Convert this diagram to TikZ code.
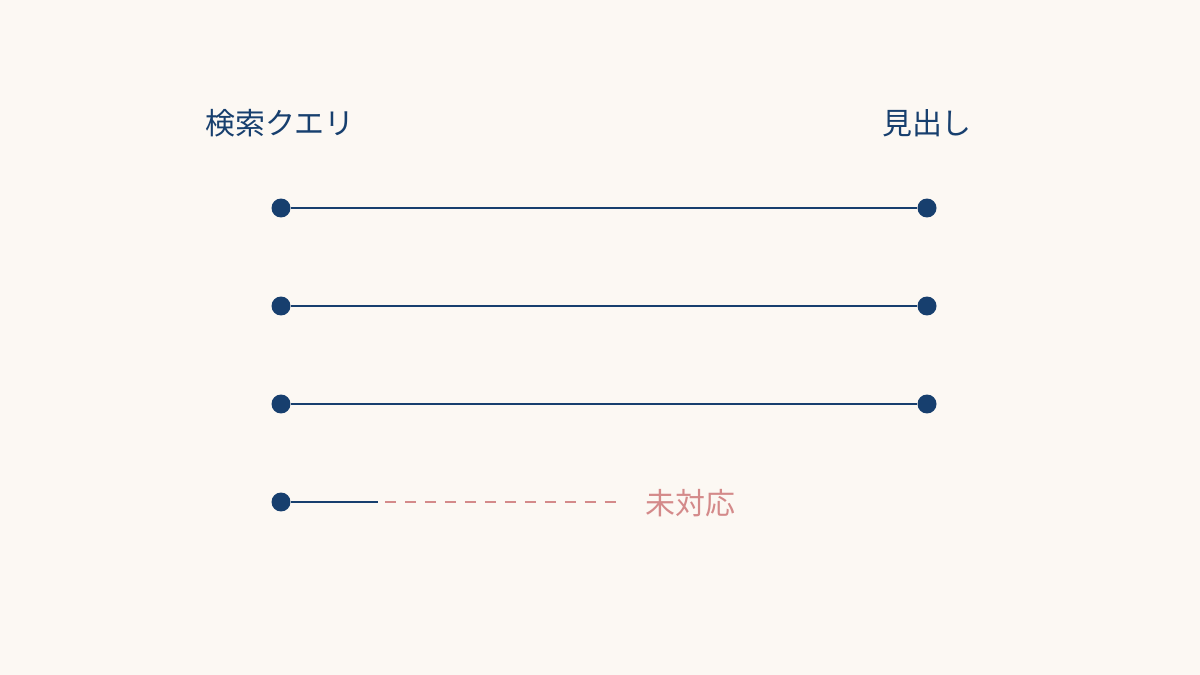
\documentclass[tikz,border=0pt]{standalone}
\usepackage{fontspec}
\newfontfamily\cjk{Noto Sans CJK JP}
\definecolor{paper}{HTML}{FCF8F3}
\definecolor{navy}{HTML}{173F6E}
\definecolor{rose}{HTML}{D48A8A}
\begin{document}
\begin{tikzpicture}[x=0.025cm,y=-0.025cm,
    dot/.style={circle, fill=navy, inner sep=0pt, minimum size=13.5pt},
    link/.style={navy, line width=1.4pt},
    label/.style={font=\cjk\fontsize{21.3}{25}\selectfont, inner sep=0pt}]
    \fill[paper] (0,0) rectangle (1200,675);
    \useasboundingbox (0,0) rectangle (1200,675);
    \node[label, navy] (query) at (280,123) {検索クエリ};
    \node[label, navy] (head) at (927,123) {見出し};
    \foreach \i/\y in {1/208,2/306,3/404,4/502}
      \node[dot] (q\i) at (281,\y) {};
    \foreach \i/\y in {1/208,2/306,3/404} {
      \node[dot] (h\i) at (927,\y) {};
      \draw[link] (q\i) -- (h\i);
    }
    \coordinate (m4) at (378,502);
    \coordinate (d4) at (622,502);
    \draw[link] (q4) -- (m4);
    \draw[rose, line width=1.4pt, dash pattern=on 7.8pt off 6.4pt] ([xshift=5pt]m4) -- (d4);
    \node[label, rose, anchor=west] (none) at (645,503) {未対応};
\end{tikzpicture}
\end{document}
